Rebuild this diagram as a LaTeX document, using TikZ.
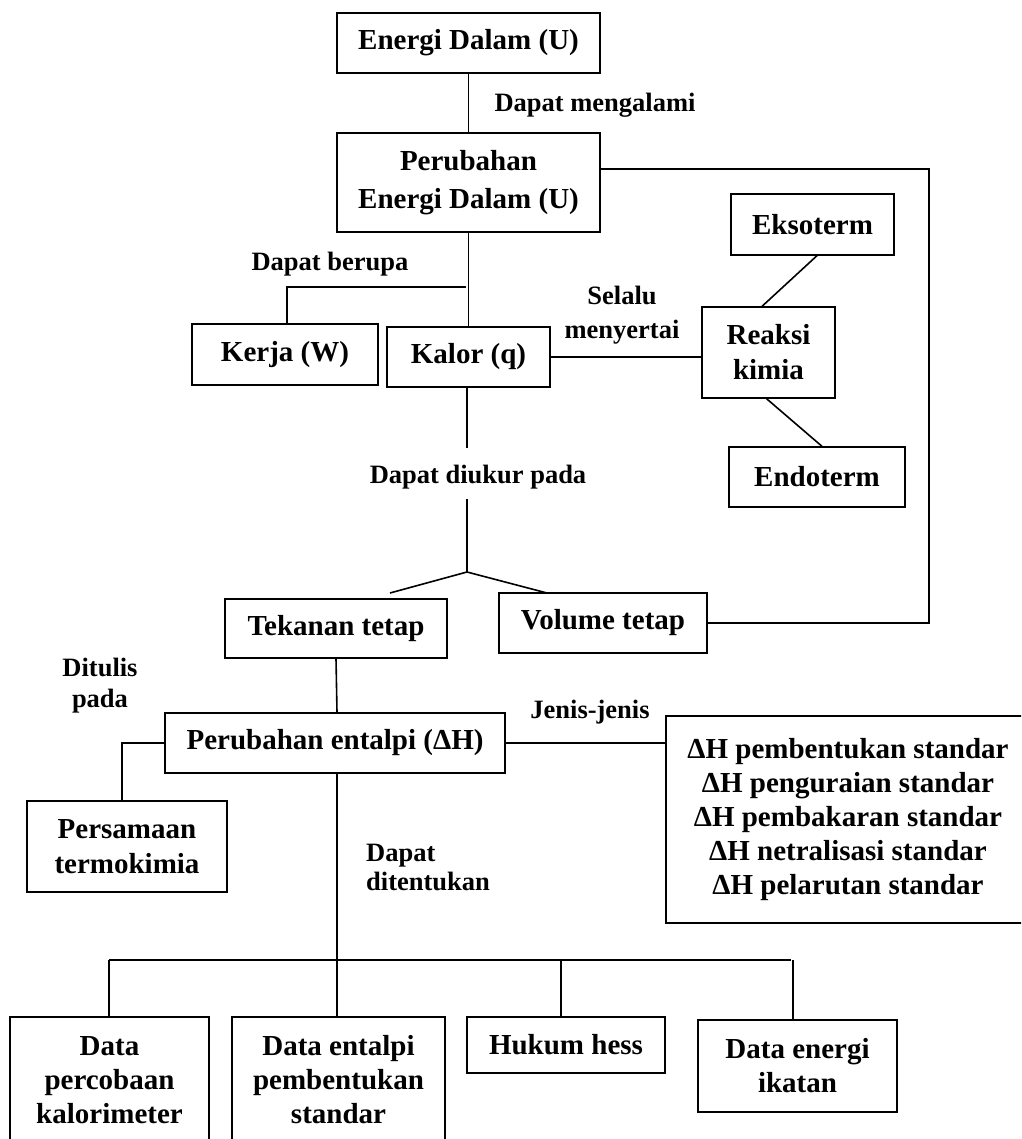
\documentclass[tikz,border=0pt]{standalone}
\usepackage{fontspec}
\setmainfont{Liberation Serif}
\begin{document}
\begin{tikzpicture}[x=1pt,y=-1pt,
  box/.style={draw, line width=1.3pt, inner sep=0pt, align=center, font=\bfseries\fontsize{29}{35}\selectfont},
  lbl/.style={inner sep=0pt, align=center, font=\bfseries\fontsize{26.5}{31}\selectfont},
  con/.style={line width=1.6pt}]
\useasboundingbox (0,0) rectangle (1021,1139);
\clip (0,0) rectangle (1021,1139);
% boxes
\node[box, minimum width=263pt, minimum height=60pt] (E) at (468.5,43) {Energi Dalam (U)};
\node[box, minimum width=263pt, minimum height=99pt, font=\bfseries\fontsize{29}{38}\selectfont] (PU) at (468.5,182.5) {Perubahan\\Energi Dalam (U)};
\node[box, minimum width=186pt, minimum height=61pt] (Kerja) at (285,354.5) {Kerja (W)};
\node[box, minimum width=163pt, minimum height=60pt] (Kalor) at (468.5,357) {Kalor (q)};
\node[box, minimum width=163pt, minimum height=61pt] (Eks) at (812.5,224.5) {Eksoterm};
\node[box, minimum width=133pt, minimum height=91pt] (Rea) at (768.5,352.5) {Reaksi\\kimia};
\node[box, minimum width=176pt, minimum height=60pt] (Endo) at (817,477) {Endoterm};
\node[box, minimum width=222pt, minimum height=59pt] (Tek) at (336,628.5) {Tekanan tetap};
\node[box, minimum width=208pt, minimum height=60pt] (Vol) at (603,623) {Volume tetap};
\node[box, minimum width=340pt, minimum height=60pt] (PE) at (335,743) {Perubahan entalpi (ΔH)};
\node[box, minimum width=200pt, minimum height=91pt] (Pers) at (127,846.5) {Persamaan\\termokimia};
\node[box, minimum width=364pt, minimum height=207pt, font=\bfseries\fontsize{29}{34}\selectfont] (DH) at (848,819.5)
  {ΔH pembentukan standar\\ΔH penguraian standar\\ΔH pembakaran standar\\ΔH netralisasi standar\\ΔH pelarutan standar};
\node[box, minimum width=199pt, minimum height=126pt, font=\bfseries\fontsize{29}{34}\selectfont] (D1) at (109.5,1080) {Data\\percobaan\\kalorimeter};
\node[box, minimum width=213pt, minimum height=126pt, font=\bfseries\fontsize{29}{34}\selectfont] (D2) at (338.5,1080) {Data entalpi\\pembentukan\\standar};
\node[box, minimum width=198pt, minimum height=56pt] (Hess) at (566,1045) {Hukum hess};
\node[box, minimum width=199pt, minimum height=92pt, font=\bfseries\fontsize{29}{34}\selectfont] (D4) at (797.5,1066) {Data energi\\ikatan};
% labels
\node[lbl] (l1) at (595,105) {Dapat mengalami};
\node[lbl] (l2) at (330,264) {Dapat berupa};
\node[lbl, font=\bfseries\fontsize{26.5}{34}\selectfont] (l3) at (622,315) {Selalu\\menyertai};
\node[lbl] (l4) at (478,477) {Dapat diukur pada};
\node[lbl, font=\bfseries\fontsize{26.5}{31}\selectfont] (l5) at (100,686) {Ditulis\\pada};
\node[lbl] (l6) at (590,712) {Jenis-jenis};
\node[lbl, align=left, anchor=west, font=\bfseries\fontsize{26.5}{29}\selectfont] (l7) at (366,867) {Dapat\\ditentukan};
% connectors
\draw[con] (E.south) -- (PU.north);
\coordinate (rc) at (929,169);
\draw[con] ([yshift=13.5pt]PU.east) -- (rc) |- (Vol.east);
\draw[con] (PU.south) -- (Kalor.north);
\coordinate (bj) at (466,287);
\draw[con] (bj) -| ([xshift=2pt]Kerja.north);
\draw[con] (Kalor.east) -- (Kalor.east -| Rea.west);
\draw[con] ([xshift=4.5pt]Eks.south) -- ([xshift=-6.5pt]Rea.north);
\draw[con] ([xshift=-2pt]Rea.south) -- ([xshift=5pt]Endo.north);
\coordinate (ka) at (467,448);
\coordinate (kb) at (467,499);
\coordinate (br) at (467,572);
\coordinate (bl1) at (390,593);
\coordinate (bl2) at (547,593);
\draw[con] ([xshift=-1.5pt]Kalor.south) -- (ka);
\draw[con] (kb) -- (br);
\draw[con] (bl1) -- (br) -- (bl2);
\draw[con] (Tek.south) -- ([xshift=2pt]PE.north);
\draw[con] (PE.west) -| ([xshift=-5pt]Pers.north);
\draw[con] (PE.east) -- (PE.east -| DH.west);
\coordinate (bus) at (337,960);
\coordinate (busL) at (109,960);
\coordinate (busR) at (791,960);
\draw[con] ([xshift=2pt]PE.south) -- (bus);
\draw[line width=2.2pt] (busL) -- (busR);
\draw[con] (busL) -- (busL |- D1.north);
\draw[con] (bus) -- (bus |- D2.north);
\draw[con] (561,960) -- (561,1017);
\draw[con] (793,960) -- (793,1020);
\end{tikzpicture}
\end{document}
